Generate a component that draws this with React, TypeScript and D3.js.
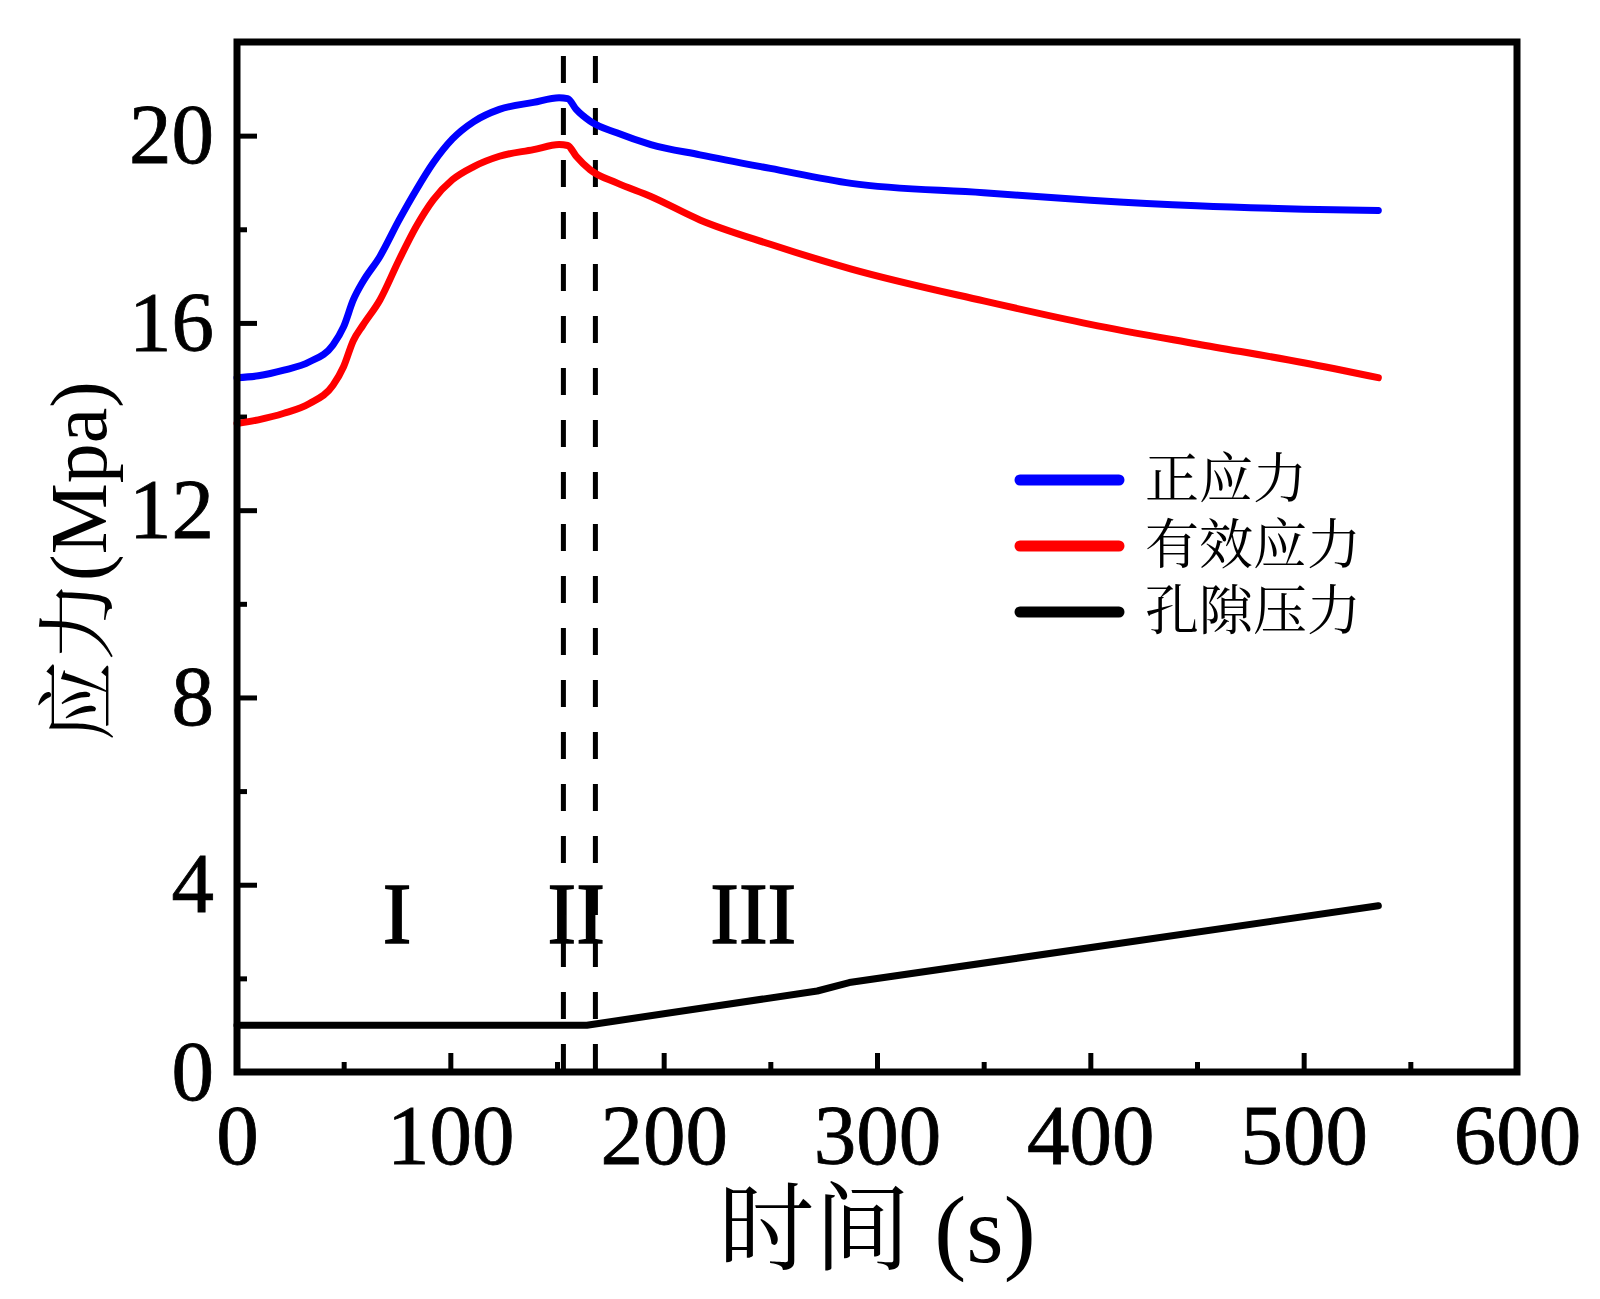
import * as React from 'react';
import { useEffect, useRef } from 'react';
import * as d3 from 'd3';

// time (s) shared by the two stress curves
const time = [0, 10, 22, 34, 45, 50, 54.5, 59, 67, 76, 84, 92, 101, 111, 123, 139, 151, 155, 159, 165.5, 178, 194, 217, 250, 288, 350, 400, 450, 500, 535];
const normalStress = [14.83, 14.87, 14.99, 15.17, 15.53, 15.92, 16.49, 16.88, 17.42, 18.2, 18.84, 19.42, 19.93, 20.3, 20.56, 20.71, 20.81, 20.79, 20.56, 20.31, 20.06, 19.81, 19.59, 19.3, 18.98, 18.78, 18.62, 18.5, 18.43, 18.4];
const effectiveStress = [13.85, 13.93, 14.07, 14.28, 14.67, 15.07, 15.62, 15.95, 16.49, 17.35, 18.06, 18.63, 19.06, 19.34, 19.56, 19.7, 19.81, 19.79, 19.56, 19.27, 18.99, 18.7, 18.2, 17.68, 17.15, 16.47, 15.97, 15.55, 15.15, 14.83];
const poreTime = [0, 164, 272, 287, 535];
const porePressure = [1.0, 1.0, 1.73, 1.91, 3.55];

const stageLines = [153, 168];
const stageLabels = ['I', 'II', 'III'];
const stageX = [75, 159, 242];
const stageY = 3.4;

const legendNames = ['正应力', '有效应力', '孔隙压力'];
const colors = ['#0000ff', '#ff0000', '#000000'];

const xTicks = [0, 100, 200, 300, 400, 500, 600];
const xMinor = [50, 150, 250, 350, 450, 550];
const yTicks = [0, 4, 8, 12, 16, 20];
const yMinor = [2, 6, 10, 14, 18];

const serif = "'Liberation Serif', 'Times New Roman', 'Noto Serif CJK SC', 'Noto Sans CJK SC', serif";

export default function App() {
    const svgRef = useRef<SVGSVGElement>(null);

    useEffect(() => {
        document.body.style.margin = '0';
        if (!svgRef.current) return;
        const svg = d3.select(svgRef.current);
        svg.selectAll('*').remove();

        const left = 237, right = 1517, top = 42, bottom = 1072;
        const x = d3.scaleLinear().domain([0, 600]).range([left, right]);
        const y = d3.scaleLinear().domain([0, 22]).range([bottom, top]);

        svg.append('rect').attr('width', 1600).attr('height', 1299).attr('fill', '#fff');

        // dashed stage boundaries
        svg.selectAll('.stage')
            .data(stageLines)
            .enter().append('line')
            .attr('x1', d => x(d)).attr('x2', d => x(d))
            .attr('y1', y(22) + 14).attr('y2', y(0))
            .attr('stroke', '#000')
            .attr('stroke-width', 5)
            .attr('stroke-dasharray', '27,25');

        // axes: major with labels, minor without
        svg.append('g').attr('transform', `translate(0,${bottom})`)
            .call(d3.axisBottom(x).tickValues(xTicks).tickSize(-19).tickPadding(32).tickFormat(d3.format('d')));
        svg.append('g').attr('transform', `translate(0,${bottom})`)
            .call(d3.axisBottom(x).tickValues(xMinor).tickSize(-10).tickFormat(() => ''));
        svg.append('g').attr('transform', `translate(${left},0)`)
            .call(d3.axisLeft(y).tickValues(yTicks).tickSize(-20).tickPadding(23).tickFormat(d3.format('d')));
        svg.append('g').attr('transform', `translate(${left},0)`)
            .call(d3.axisLeft(y).tickValues(yMinor).tickSize(-10).tickFormat(() => ''));

        svg.selectAll('.domain').remove();
        svg.selectAll('.tick line').attr('stroke', '#000').attr('stroke-width', 5);
        svg.selectAll('.tick text')
            .attr('font-size', 85)
            .attr('font-family', serif)
            .attr('fill', '#000')
            .attr('stroke', '#000')
            .attr('stroke-width', 0.8);

        // series
        const series = [
            { xs: time, ys: normalStress, curve: d3.curveMonotoneX },
            { xs: time, ys: effectiveStress, curve: d3.curveMonotoneX },
            { xs: poreTime, ys: porePressure, curve: d3.curveLinear },
        ];
        series.forEach((s, i) => {
            const line = d3.line<number>()
                .x((_, j) => x(s.xs[j]))
                .y(d => y(d))
                .curve(s.curve);
            svg.append('path')
                .datum(s.ys)
                .attr('fill', 'none')
                .attr('stroke', colors[i])
                .attr('stroke-width', 7)
                .attr('stroke-linecap', 'round')
                .attr('stroke-linejoin', 'round')
                .attr('d', line);
        });

        // stage numerals
        svg.selectAll('.stage-label')
            .data(stageLabels)
            .enter().append('text')
            .attr('x', (_, i) => x(stageX[i]))
            .attr('y', y(stageY) + 30)
            .attr('text-anchor', 'middle')
            .attr('font-size', 86)
            .attr('font-family', serif)
            .attr('stroke', '#000')
            .attr('stroke-width', 1.5)
            .text(d => d);

        // frame
        svg.append('rect')
            .attr('x', left).attr('y', top)
            .attr('width', right - left).attr('height', bottom - top)
            .attr('fill', 'none')
            .attr('stroke', '#000')
            .attr('stroke-width', 7);

        // legend
        const legend = svg.append('g').attr('transform', 'translate(1020,480)');
        legendNames.forEach((name, i) => {
            legend.append('line')
                .attr('x1', 0).attr('x2', 99)
                .attr('y1', i * 66).attr('y2', i * 66)
                .attr('stroke', colors[i])
                .attr('stroke-width', 11)
                .attr('stroke-linecap', 'round');
            legend.append('text')
                .attr('x', 125).attr('y', i * 66)
                .attr('dominant-baseline', 'central')
                .attr('font-size', 54)
                .attr('font-family', serif)
                .text(name);
        });

        // axis titles
        svg.append('text')
            .attr('x', (left + right) / 2).attr('y', 1262)
            .attr('text-anchor', 'middle')
            .attr('font-size', 96)
            .attr('font-family', serif)
            .text('时间 (s)');
        svg.append('text')
            .attr('transform', 'translate(106,561) rotate(-90)')
            .attr('text-anchor', 'middle')
            .attr('font-size', 80)
            .attr('font-family', serif)
            .text('应力(Mpa)');
    }, []);

    return <svg ref={svgRef} width={1600} height={1299} style={{ display: 'block' }}></svg>;
}
